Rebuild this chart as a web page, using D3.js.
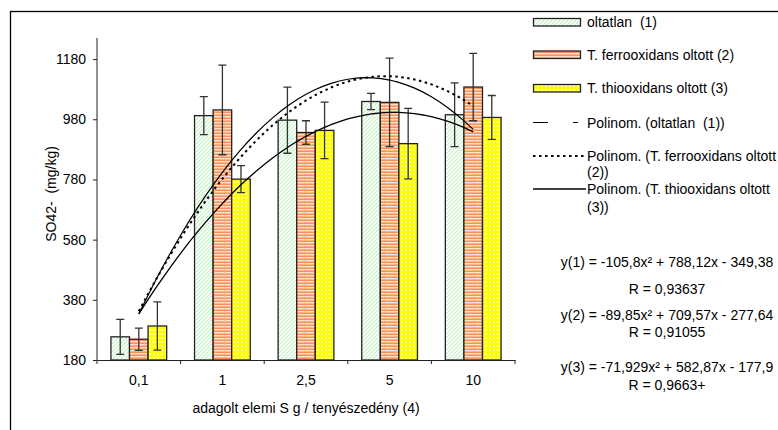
<!DOCTYPE html>
<html>
<head>
<meta charset="utf-8">
<script src="https://cdn.jsdelivr.net/npm/d3@7"></script>
<style>
  html, body { margin: 0; padding: 0; background: #fff; }
  svg { display: block; font-family: "Liberation Sans", Arial, sans-serif; font-size: 14px; }
  svg text { white-space: pre; }
</style>
</head>
<body>
<script>
const width = 778
const height = 430

// data
const categories = ['0,1', '1', '2,5', '5', '10']
const oltatlan = [257, 992, 977, 1039, 995]
const ferro = [249, 1011, 936, 1036, 1087]
const thio = [293, 781, 943, 899, 986]
const errOltatlan = [58, 63, 110, 27, 106]
const errFerro = [37, 149, 39, 147, 112]
const errThio = [80, 45, 94, 117, 73]
const yTicks = [180, 380, 580, 780, 980, 1180]

// trend line coefficients (a, b, c) as printed: y = a x^2 + b x + c
const trendOltatlan = [-105.8, 788.12, -349.38]
const trendFerro = [-89.85, 709.57, -277.64]
const trendThio = [-71.929, 582.87, -177.9]

const seriesNames = ['oltatlan  (1)', 'T. ferrooxidans oltott (2)', 'T. thiooxidans oltott (3)']
const equations = [
  ['y(1) = -105,8x\u00b2 + 788,12x - 349,38', 'R = 0,93637'],
  ['y(2) = -89,85x\u00b2 + 709,57x - 277,64', 'R = 0,91055'],
  ['y(3) = -71,929x\u00b2 + 582,87x - 177,9', 'R = 0,9663+']
]

const margin = { top: 38, left: 97, bottom: 360, right: 515 }

const svg = d3.select('body').append('svg')
  .attr('width', width)
  .attr('height', height)

// patterns
const defs = svg.append('defs')
const pg = defs.append('pattern').attr('id', 'pGreen').attr('patternUnits', 'userSpaceOnUse')
  .attr('width', 4).attr('height', 4)
pg.append('rect').attr('width', 4).attr('height', 4).attr('fill', '#fff')
pg.append('path').attr('d', 'M-1,1 L1,-1 M0,4 L4,0 M3,5 L5,3')
  .attr('stroke', '#c4f0c4').attr('stroke-width', 1.2)

const po = defs.append('pattern').attr('id', 'pOrange').attr('patternUnits', 'userSpaceOnUse')
  .attr('width', 10).attr('height', 3)
po.append('rect').attr('width', 10).attr('height', 3).attr('fill', '#fde2cf')
po.append('rect').attr('y', 0.5).attr('width', 10).attr('height', 1.4).attr('fill', '#f6884a')
po.append('rect').attr('x', 4).attr('width', 0.8).attr('height', 3).attr('fill', '#f4a77a').attr('opacity', 0.6)

const py = defs.append('pattern').attr('id', 'pYellow').attr('patternUnits', 'userSpaceOnUse')
  .attr('width', 4).attr('height', 4)
py.append('rect').attr('width', 4).attr('height', 4).attr('fill', '#ffff00')
py.append('rect').attr('x', 1.2).attr('y', 1.2).attr('width', 1.6).attr('height', 1.6).attr('fill', '#fff')

const fills = ['url(#pGreen)', 'url(#pOrange)', 'url(#pYellow)']

// outer chart border
svg.append('rect')
  .attr('x', 10.5).attr('y', 11.5)
  .attr('width', 900).attr('height', 600)
  .attr('fill', 'none').attr('stroke', '#000').attr('stroke-width', 1.3)

const x = d3.scaleBand()
  .domain(categories)
  .range([margin.left, margin.right])
  .paddingInner(0).paddingOuter(0)

const x1 = d3.scaleBand()
  .domain([0, 1, 2])
  .range([0, x.bandwidth()])
  .paddingInner(0)
  .paddingOuter(0.75)

const y = d3.scaleLinear()
  .domain([180, 1250])
  .range([margin.bottom, margin.top])

// y axis
const yAxis = svg.append('g')
  .attr('transform', `translate(${margin.left},0)`)
  .call(d3.axisLeft(y).tickValues(yTicks).tickSize(4).tickPadding(7).tickFormat(d3.format('d')))
yAxis.select('.domain').attr('d', `M0,${margin.top}V${margin.bottom + 4}`).attr('stroke', '#222')
yAxis.selectAll('.tick line').attr('stroke', '#222')
yAxis.selectAll('text').attr('font-size', 14).attr('font-family', '"Liberation Sans", Arial, sans-serif').attr('fill', '#000')

// x axis
const xAxis = svg.append('g')
  .attr('transform', `translate(0,${margin.bottom})`)
  .call(d3.axisBottom(x).tickSize(0).tickPadding(20))
xAxis.select('.domain').attr('stroke', '#222')
xAxis.selectAll('text').attr('font-size', 14).attr('font-family', '"Liberation Sans", Arial, sans-serif').attr('fill', '#000').attr('dy', 0)
xAxis.selectAll('.divider')
  .data(categories)
  .join('line')
  .attr('class', 'divider')
  .attr('x1', d => x(d) + x.bandwidth()).attr('x2', d => x(d) + x.bandwidth())
  .attr('y1', 0).attr('y2', 4)
  .attr('stroke', '#222')
xAxis.selectAll('.tick text').attr('y', 25)

// bars
const series = [oltatlan, ferro, thio]
const errors = [errOltatlan, errFerro, errThio]
const bars = series.flatMap((vals, s) => vals.map((v, i) => ({ s, i, v, e: errors[s][i] })))

svg.append('g')
  .selectAll('rect')
  .data(bars)
  .join('rect')
  .attr('x', d => x(categories[d.i]) + x1(d.s))
  .attr('width', x1.bandwidth())
  .attr('y', d => y(d.v))
  .attr('height', d => y(180) - y(d.v))
  .attr('fill', d => fills[d.s])
  .attr('stroke', '#222')
  .attr('stroke-width', 1.3)

// error bars
const eg = svg.append('g').attr('stroke', '#333').attr('stroke-width', 1.3).attr('fill', 'none')
eg.selectAll('path')
  .data(bars)
  .join('path')
  .attr('d', d => {
    const cx = x(categories[d.i]) + x1(d.s) + x1.bandwidth() / 2
    const t = y(d.v + d.e), b = y(d.v - d.e)
    return `M${cx},${t}V${b}M${cx - 4},${t}H${cx + 4}M${cx - 4},${b}H${cx + 4}`
  })

// polynomial trend lines, x = 1..5 at category centres
const xt = d3.scaleLinear()
  .domain([1, categories.length])
  .range([x(categories[0]) + x.bandwidth() / 2, x(categories[categories.length - 1]) + x.bandwidth() / 2])
const poly = c => t => c[0] * t * t + c[1] * t + c[2]
const ts = d3.range(1, categories.length + 0.001, 0.1)
const line = d3.line().x(t => xt(t))
const trends = [
  { c: trendOltatlan, dash: null, w: 1.2 },
  { c: trendFerro, dash: '2.5,3.5', w: 2 },
  { c: trendThio, dash: null, w: 1.3 }
]
svg.append('g')
  .selectAll('path')
  .data(trends)
  .join('path')
  .attr('d', d => line.y(t => y(poly(d.c)(t)))(ts))
  .attr('fill', 'none')
  .attr('stroke', '#000')
  .attr('stroke-width', d => d.w)
  .attr('stroke-dasharray', d => d.dash)

// axis titles
svg.append('text')
  .attr('transform', 'translate(56,194) rotate(-90)')
  .attr('text-anchor', 'middle')
  .text('SO42-  (mg/kg)')
svg.append('text')
  .attr('x', 306).attr('y', 413)
  .attr('text-anchor', 'middle')
  .text('adagolt elemi S g / tenyészedény (4)')

// legend
const lg = svg.append('g')
const swatchY = [18.5, 51, 84.5]
seriesNames.forEach((name, s) => {
  lg.append('rect')
    .attr('x', 533.5).attr('y', swatchY[s])
    .attr('width', 47).attr('height', 7.5)
    .attr('fill', fills[s]).attr('stroke', '#222').attr('stroke-width', 1.3)
  lg.append('text').attr('x', 587).attr('y', swatchY[s] + 8.5).text(name)
})
lg.append('line').attr('x1', 533).attr('x2', 578).attr('y1', 122.5).attr('y2', 122.5)
  .attr('stroke', '#000').attr('stroke-width', 1.2).attr('stroke-dasharray', '15,25,5')
lg.append('text').attr('x', 587).attr('y', 127.5).text('Polinom. (oltatlan  (1))')
lg.append('line').attr('x1', 533).attr('x2', 586).attr('y1', 156).attr('y2', 156)
  .attr('stroke', '#000').attr('stroke-width', 2).attr('stroke-dasharray', '2.5,3.5')
lg.append('text').attr('x', 587).attr('y', 160.5).text('Polinom. (T. ferrooxidans oltott')
lg.append('text').attr('x', 587).attr('y', 177).text('(2))')
lg.append('line').attr('x1', 533).attr('x2', 586).attr('y1', 189).attr('y2', 189)
  .attr('stroke', '#000').attr('stroke-width', 1.3)
lg.append('text').attr('x', 587).attr('y', 193.5).text('Polinom. (T. thiooxidans oltott')
lg.append('text').attr('x', 587).attr('y', 211.5).text('(3))')

// equations
const eqY = [[266.5, 293.5], [319.5, 337], [371.5, 389.5]]
equations.forEach((eq, i) => {
  svg.append('text').attr('x', 667).attr('y', eqY[i][0]).attr('text-anchor', 'middle').text(eq[0])
  svg.append('text').attr('x', 667).attr('y', eqY[i][1]).attr('text-anchor', 'middle').text(eq[1])
})
</script>
</body>
</html>
